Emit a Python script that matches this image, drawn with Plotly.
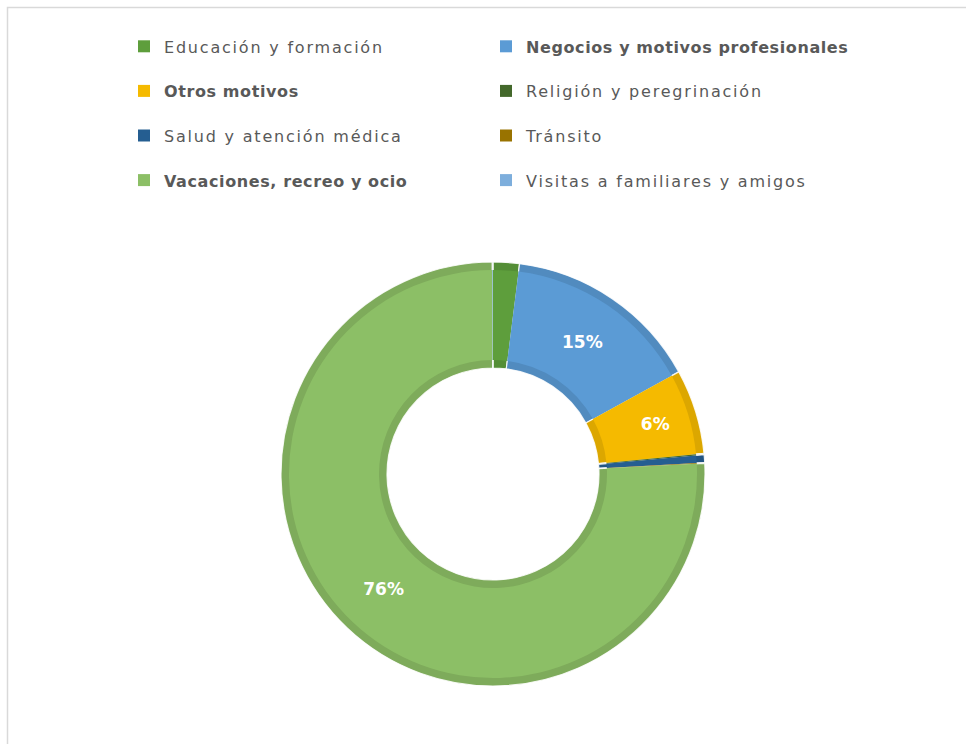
import plotly.graph_objects as go

# ---- data ----
labels = [
    "Educación y formación",
    "Negocios y motivos profesionales",
    "Otros motivos",
    "Religión y peregrinación",
    "Salud y atención médica",
    "Tránsito",
    "Vacaciones, recreo y ocio",
    "Visitas a familiares y amigos",
]
values = [2.0, 15.0, 6.45, 0.1, 0.6, 0.05, 75.75, 0.05]

# ---- style ----
colors = ["#5E9E3C", "#5B9BD5", "#F5BA00", "#43682B", "#255E91", "#997300", "#8CBF66", "#7DAEDC"]
bold_in_legend = [False, True, True, False, False, False, True, False]


def darken(hex_color, f=0.9):
    h = hex_color.lstrip("#")
    r, g, b = (int(h[i:i + 2], 16) for i in (0, 2, 4))
    return "#{:02X}{:02X}{:02X}".format(int(r * f), int(g * f), int(b * f))


total = sum(values)
pct_text = [f"{round(v / total * 100)}%" if v / total >= 0.03 else "" for v in values]
band_colors = [darken(c) for c in colors]

legend_labels = []
for lab, b in zip(labels, bold_in_legend):
    if b:
        inner = f'<span style="letter-spacing:0.6px"><b>{lab}</b></span>'
    else:
        inner = f'<span style="letter-spacing:1.8px">{lab}</span>'
    legend_labels.append(
        f'<span style="font-size:16px;baseline-shift:6px">{inner}</span>'
    )

W, H = 966, 744
cx, cy = 493, 474
R_out, R_in, band = 212, 106, 8


def dom(r):
    return dict(x=[(cx - r) / W, (cx + r) / W], y=[(H - cy - r) / H, (H - cy + r) / H])


# bottom layer: darker edge band of each slice
bottom = go.Pie(
    labels=[l + " " for l in labels],
    values=values,
    textinfo="none",
    hole=R_in / R_out,
    sort=False,
    direction="clockwise",
    rotation=0,
    marker=dict(colors=band_colors, line=dict(color="rgba(255,255,255,0.85)", width=1.2)),
    domain=dom(R_out),
    showlegend=False,
    hoverinfo="skip",
)

R2 = R_out - band
top = go.Pie(
    labels=legend_labels,
    values=values,
    text=pct_text,
    textinfo="text",
    textposition="inside",
    insidetextorientation="horizontal",
    textfont=dict(family="DejaVu Sans", size=17, color="white", weight="bold"),
    hole=(R_in + band) / R2,
    sort=False,
    direction="clockwise",
    rotation=0,
    marker=dict(colors=colors, line=dict(width=0)),
    domain=dom(R2),
    hoverinfo="skip",
)

fig = go.Figure([bottom, top])

fig.update_layout(
    width=W,
    height=H,
    margin=dict(l=0, r=0, t=0, b=0),
    paper_bgcolor="white",
    plot_bgcolor="white",
    font=dict(family="DejaVu Sans", color="#595959"),
    showlegend=True,
    legend=dict(
        orientation="h",
        x=124 / W,
        xanchor="left",
        y=1 - 19 / H,
        yanchor="top",
        font=dict(family="DejaVu Sans", size=32, color="#595959"),
        entrywidth=317,
        entrywidthmode="pixels",
        traceorder="normal",
        bgcolor="rgba(0,0,0,0)",
    ),
    shapes=[
        dict(
            type="rect", xref="paper", yref="paper",
            x0=7.5 / W, x1=1.2, y0=-0.2, y1=1 - 7.5 / H,
            line=dict(color="#D9D9D9", width=1.5),
            fillcolor="rgba(0,0,0,0)", layer="below",
        )
    ],
)

fig.write_html("out.html")
